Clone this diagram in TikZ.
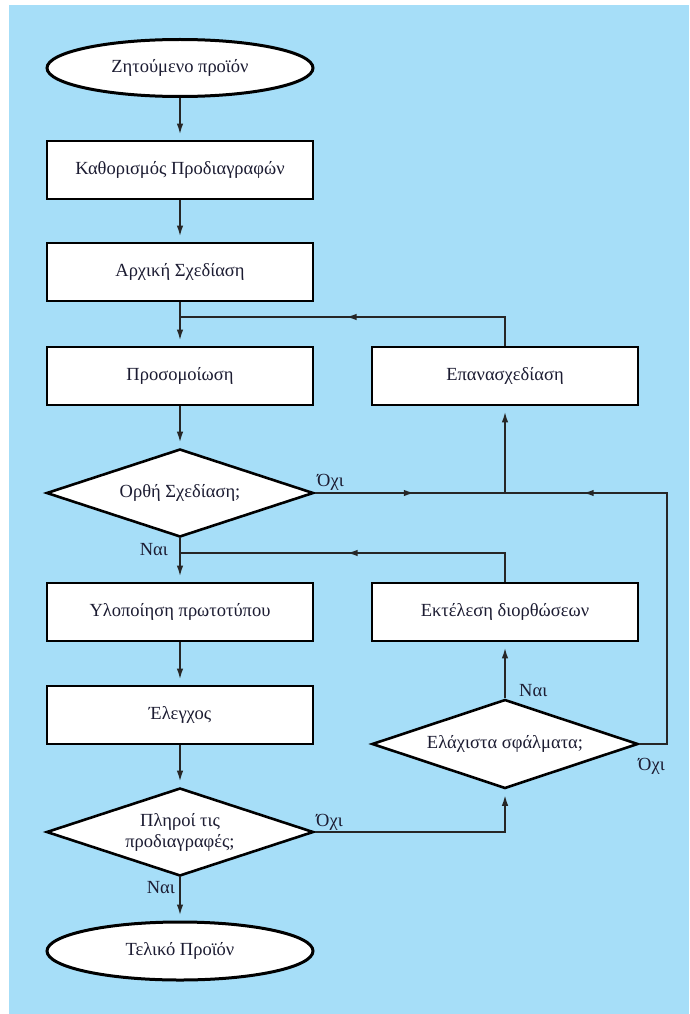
\documentclass[tikz,border=0pt]{standalone}
\usepackage{fontspec}
\setmainfont{Liberation Serif}
\usetikzlibrary{shapes.geometric,arrows.meta,decorations.markings}
\definecolor{bgblue}{HTML}{A6DEF8}
\definecolor{ink}{HTML}{1C1C32}
\definecolor{wire}{HTML}{262626}
\begin{document}
\begin{tikzpicture}[x=1pt,y=-1pt,
  font=\fontsize{18.5}{21}\selectfont,
  every node/.style={text=ink},
  terminal/.style={ellipse,draw=black,line width=3pt,fill=white,
    minimum width=266pt,minimum height=57pt,inner sep=0pt},
  stepbox/.style={rectangle,draw=black,line width=2.8pt,fill=white,
    minimum width=266pt,minimum height=58pt,inner sep=0pt},
  decision/.style={diamond,draw=black,line width=2.6pt,fill=white,aspect=3,
    minimum width=267pt,minimum height=88pt,inner sep=0pt,align=center},
  wireline/.style={draw=wire,line width=1.9pt},
  arr/.style={wireline,-{Latex[length=11pt,width=6.5pt]},shorten >=5pt},
  midarrow/.style={postaction={decorate},decoration={markings,
    mark=at position #1 with {\arrow[wire]{Latex[length=11pt,width=6.5pt]}}}},
  lbl/.style={inner sep=0pt}]

% page and background panel
\useasboundingbox (0,0) rectangle (689,1014);
\fill[white] (0,0) rectangle (689,1014);
\fill[bgblue] (9,5) rectangle (689,1014);

% main column
\node[terminal] (start) at (180,68) {Ζητούμενο προϊόν};
\node[stepbox] (spec) at (180,170) {Καθορισμός Προδιαγραφών};
\node[stepbox] (init) at (180,272) {Αρχική Σχεδίαση};
\node[stepbox] (sim) at (180,376) {Προσομοίωση};
\node[decision] (check) at (180,493) {Ορθή Σχεδίαση;};
\node[stepbox] (proto) at (180,612) {Υλοποίηση πρωτοτύπου};
\node[stepbox] (test) at (180,715) {Έλεγχος};
\node[decision] (meets) at (180,832) {Πληροί τις\\προδιαγραφές;};
\node[terminal,minimum height=58pt] (final) at (180,951) {Τελικό Προϊόν};

% side column
\node[stepbox] (redesign) at (505,376) {Επανασχεδίαση};
\node[stepbox] (fix) at (505,612) {Εκτέλεση διορθώσεων};
\node[decision,minimum width=266pt,minimum height=89pt] (errors) at (505,744) {Ελάχιστα σφάλματα;};

% junction points
\coordinate (j1) at (180,317);
\coordinate (j2) at (505,493);
\coordinate (j3) at (180,553);
\coordinate (loopc) at (667,744);

% forward flow
\draw[arr] (start) -- (spec);
\draw[arr] (spec) -- (init);
\draw[arr] (init) -- (sim);
\draw[arr] (sim) -- (check);
\draw[arr] (check) -- (proto);
\draw[arr] (proto) -- (test);
\draw[arr] (test) -- (meets);
\draw[arr] (meets) -- (final);

% redesign loop
\draw[wireline,midarrow=188pt] (redesign.north) -- (redesign.north |- j1) -- (j1);
\draw[wireline,midarrow=100pt] (check.east) -- (j2);
\draw[arr] (j2) -- (redesign.south);

% correction loop
\draw[wireline,midarrow=187pt] (fix.north) -- (fix.north |- j3) -- (j3);
\draw[arr] (errors.north) -- (fix.south);
\draw[arr] (meets.east) -| (errors.south);
\draw[wireline,midarrow=363pt] (errors.east) -- (loopc) -- (loopc |- j2) -- (j2);

% branch labels
\node[lbl,anchor=base west] (no1) at (317,486) {Όχι};
\node[lbl,anchor=base east] (yes1) at (168,555) {Ναι};
\node[lbl,anchor=base west] (yes2) at (519,696) {Ναι};
\node[lbl,anchor=base west] (no2) at (638,770) {Όχι};
\node[lbl,anchor=base west] (no3) at (316,826) {Όχι};
\node[lbl,anchor=base east] (yes3) at (175,893) {Ναι};
\end{tikzpicture}
\end{document}
